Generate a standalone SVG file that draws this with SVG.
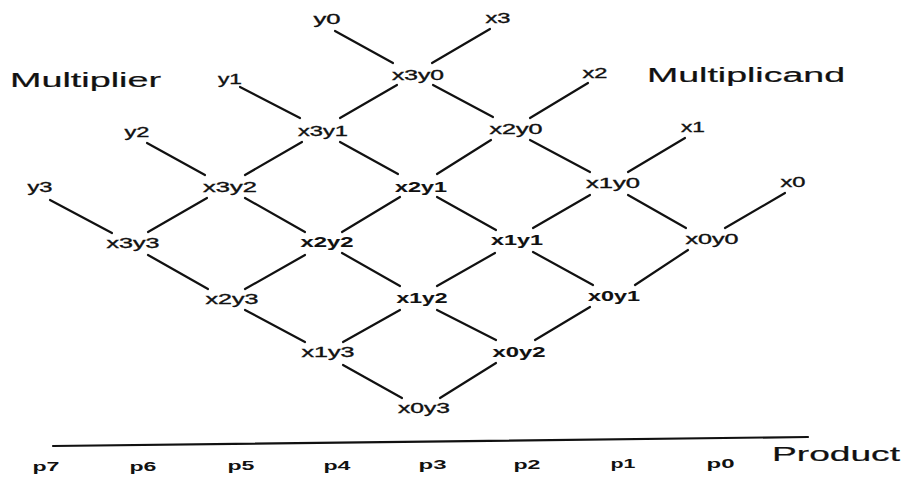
<svg xmlns="http://www.w3.org/2000/svg" width="907" height="478" viewBox="0 0 907 478">
<style>
.n{font-family:"Liberation Sans",Arial,sans-serif;font-size:14.5px;fill:#111;stroke:#111;stroke-width:0.35px;}
.b{font-weight:bold;stroke-width:0.1px;}
.t{font-family:"Liberation Sans",Arial,sans-serif;font-size:19.5px;fill:#111;stroke:#111;stroke-width:0.2px;}
.p{font-family:"Liberation Sans",Arial,sans-serif;font-size:13.5px;font-weight:bold;fill:#111;}
.c line{stroke:#111;stroke-width:2.2;stroke-linecap:round;}
</style>
<rect width="907" height="478" fill="#fff"/>
<g id="connectors" class="c">
<line x1="335" y1="31" x2="393" y2="63"/>
<line x1="490" y1="29" x2="432" y2="63"/>
<line x1="240" y1="87" x2="300" y2="118"/>
<line x1="397" y1="85" x2="340" y2="118"/>
<line x1="433" y1="85" x2="493" y2="117"/>
<line x1="588" y1="83" x2="530" y2="118"/>
<line x1="147" y1="143" x2="205" y2="175"/>
<line x1="302" y1="142" x2="245" y2="175"/>
<line x1="340" y1="142" x2="398" y2="174"/>
<line x1="491" y1="140" x2="437" y2="174"/>
<line x1="530" y1="140" x2="590" y2="172"/>
<line x1="685" y1="138" x2="628" y2="172"/>
<line x1="50" y1="200" x2="112" y2="233"/>
<line x1="207" y1="198" x2="148" y2="232"/>
<line x1="245" y1="198" x2="305" y2="232"/>
<line x1="400" y1="197" x2="342" y2="232"/>
<line x1="437" y1="197" x2="496" y2="230"/>
<line x1="590" y1="195" x2="533" y2="228"/>
<line x1="628" y1="195" x2="686" y2="228"/>
<line x1="785" y1="193" x2="725" y2="228"/>
<line x1="148" y1="255" x2="208" y2="289"/>
<line x1="305" y1="255" x2="245" y2="289"/>
<line x1="342" y1="253" x2="400" y2="286"/>
<line x1="495" y1="253" x2="437" y2="286"/>
<line x1="533" y1="252" x2="593" y2="285"/>
<line x1="688" y1="250" x2="635" y2="285"/>
<line x1="245" y1="310" x2="305" y2="342"/>
<line x1="400" y1="310" x2="343" y2="342"/>
<line x1="437" y1="310" x2="496" y2="340"/>
<line x1="590" y1="307" x2="535" y2="340"/>
<line x1="343" y1="365" x2="402" y2="398"/>
<line x1="496" y1="363" x2="440" y2="398"/>
<line x1="53" y1="446" x2="808" y2="437"/>
</g>
<g id="labels">
<text class="t" x="10" y="87" textLength="151" lengthAdjust="spacingAndGlyphs">Multiplier</text>
<text class="t" x="647" y="82" textLength="198" lengthAdjust="spacingAndGlyphs">Multiplicand</text>
<text class="t" x="772" y="461" textLength="128" lengthAdjust="spacingAndGlyphs">Product</text>
</g>
<g id="y0"><text class="n" x="313.5" y="24" textLength="27" lengthAdjust="spacingAndGlyphs">y0</text></g>
<g id="x3"><text class="n" x="485.5" y="23" textLength="25" lengthAdjust="spacingAndGlyphs">x3</text></g>
<g id="y1"><text class="n" x="218" y="84" textLength="24" lengthAdjust="spacingAndGlyphs">y1</text></g>
<g id="x3y0"><text class="n" x="392" y="80" textLength="52" lengthAdjust="spacingAndGlyphs">x3y0</text></g>
<g id="x2"><text class="n" x="582.5" y="78" textLength="25" lengthAdjust="spacingAndGlyphs">x2</text></g>
<g id="y2"><text class="n" x="124.5" y="137" textLength="25" lengthAdjust="spacingAndGlyphs">y2</text></g>
<g id="x3y1"><text class="n" x="298" y="136" textLength="50" lengthAdjust="spacingAndGlyphs">x3y1</text></g>
<g id="x2y0"><text class="n" x="489.5" y="134" textLength="53" lengthAdjust="spacingAndGlyphs">x2y0</text></g>
<g id="x1"><text class="n" x="681" y="132" textLength="24" lengthAdjust="spacingAndGlyphs">x1</text></g>
<g id="y3"><text class="n" x="27.5" y="192" textLength="25" lengthAdjust="spacingAndGlyphs">y3</text></g>
<g id="x3y2"><text class="n" x="203" y="192" textLength="54" lengthAdjust="spacingAndGlyphs">x3y2</text></g>
<g id="x2y1"><text class="n b" x="395" y="192" textLength="52" lengthAdjust="spacingAndGlyphs">x2y1</text></g>
<g id="x1y0"><text class="n" x="586" y="188" textLength="54" lengthAdjust="spacingAndGlyphs">x1y0</text></g>
<g id="x0"><text class="n" x="780.5" y="187" textLength="25" lengthAdjust="spacingAndGlyphs">x0</text></g>
<g id="x3y3"><text class="n" x="106.5" y="248" textLength="53" lengthAdjust="spacingAndGlyphs">x3y3</text></g>
<g id="x2y2"><text class="n b" x="300.5" y="247" textLength="53" lengthAdjust="spacingAndGlyphs">x2y2</text></g>
<g id="x1y1"><text class="n b" x="491" y="245" textLength="52" lengthAdjust="spacingAndGlyphs">x1y1</text></g>
<g id="x0y0"><text class="n" x="685.5" y="244" textLength="53" lengthAdjust="spacingAndGlyphs">x0y0</text></g>
<g id="x2y3"><text class="n" x="205.5" y="304" textLength="53" lengthAdjust="spacingAndGlyphs">x2y3</text></g>
<g id="x1y2"><text class="n b" x="396.5" y="303" textLength="51" lengthAdjust="spacingAndGlyphs">x1y2</text></g>
<g id="x0y1"><text class="n b" x="588" y="301" textLength="52" lengthAdjust="spacingAndGlyphs">x0y1</text></g>
<g id="x1y3"><text class="n" x="301.5" y="357" textLength="53" lengthAdjust="spacingAndGlyphs">x1y3</text></g>
<g id="x0y2"><text class="n b" x="492.5" y="357" textLength="53" lengthAdjust="spacingAndGlyphs">x0y2</text></g>
<g id="x0y3"><text class="n" x="398" y="413" textLength="52" lengthAdjust="spacingAndGlyphs">x0y3</text></g>
<g id="products">
<text class="p" x="32.5" y="471" textLength="27" lengthAdjust="spacingAndGlyphs">p7</text>
<text class="p" x="129.5" y="470.5" textLength="27" lengthAdjust="spacingAndGlyphs">p6</text>
<text class="p" x="227.5" y="470" textLength="27" lengthAdjust="spacingAndGlyphs">p5</text>
<text class="p" x="323.5" y="469.5" textLength="27" lengthAdjust="spacingAndGlyphs">p4</text>
<text class="p" x="418.5" y="469" textLength="28" lengthAdjust="spacingAndGlyphs">p3</text>
<text class="p" x="513.5" y="468.5" textLength="27" lengthAdjust="spacingAndGlyphs">p2</text>
<text class="p" x="610.5" y="468" textLength="25" lengthAdjust="spacingAndGlyphs">p1</text>
<text class="p" x="706.5" y="467.5" textLength="28" lengthAdjust="spacingAndGlyphs">p0</text>
</g>
</svg>
